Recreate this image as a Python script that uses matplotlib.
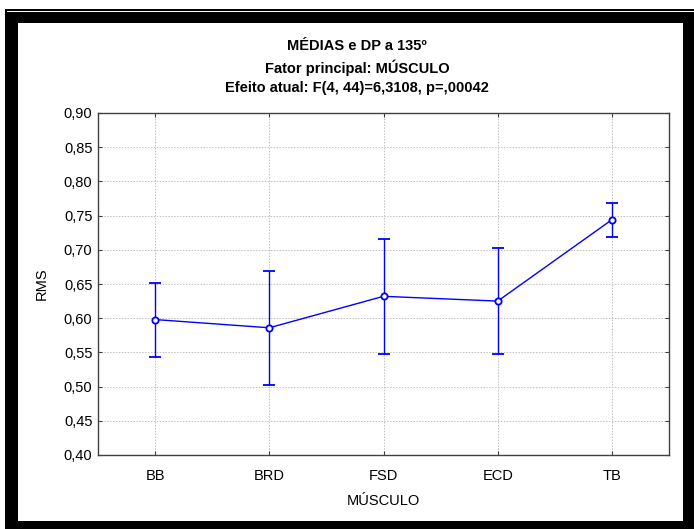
import matplotlib
matplotlib.use('Agg')
import matplotlib.pyplot as plt
from matplotlib.patches import Rectangle
from matplotlib.ticker import FuncFormatter

# datos del grafico
musculos = ['BB', 'BRD', 'FSD', 'ECD', 'TB']
medias = [0.598, 0.586, 0.632, 0.625, 0.744]
dp = [0.054, 0.083, 0.084, 0.077, 0.025]
yticks = [0.40, 0.45, 0.50, 0.55, 0.60, 0.65, 0.70, 0.75, 0.80, 0.85, 0.90]

titulo = ['MÉDIAS e DP a 135º', 'Fator principal: MÚSCULO', 'Efeito atual: F(4, 44)=6,3108, p=,00042']

plt.rcParams['font.family'] = ['Liberation Sans', 'DejaVu Sans']
plt.rcParams['font.size'] = 10.5

W, H = 694, 529
fig = plt.figure(figsize=(W / 100, H / 100), dpi=100)

#convierte pixeles a coordenadas de la figura
def px_rect(x0, y0, x1, y1):
    return Rectangle((x0 / W, (H - y1) / H), (x1 - x0) / W, (y1 - y0) / H,
                     transform=fig.transFigure, facecolor='black', edgecolor='none')

# marco negro
for r in [(5, 9, 7, H), (5, 9, W, 11), (7, 12, 18, H), (7, 12, W, 23), (683, 12, W, H), (7, 521, W, H)]:
    fig.add_artist(px_rect(*r))

ax = fig.add_axes([98 / W, (H - 455) / H, (669 - 98) / W, (455 - 113) / H])

x = list(range(len(musculos)))
ax.errorbar(x, medias, yerr=dp, color='#0000ff', lw=1, capsize=4, capthick=0.9, elinewidth=1,
            marker='o', ms=4.5, mfc='white', mec='#0000ff', mew=1.3, zorder=3)

ax.set_xlim(-0.5, 4.5)
ax.set_ylim(0.40, 0.90)
ax.set_xticks(x)
ax.set_xticklabels(musculos)
ax.set_yticks(yticks)
ax.yaxis.set_major_formatter(FuncFormatter(lambda v, p: ('%.2f' % v).replace('.', ',')))

ax.grid(True, linestyle=(0, (1.5, 1.5)), color='#c0c0c0', lw=0.7)
ax.tick_params(direction='in', top=True, right=True, length=3, width=0.8, color='#404040')
ax.tick_params(axis='x', pad=10)
ax.tick_params(axis='y', pad=4)
for s in ax.spines.values():
    s.set_color('#404040')
    s.set_linewidth(1)

ax.set_xlabel('MÚSCULO', labelpad=8)
ax.set_ylabel('RMS', labelpad=11)

# titulos
for t, yy in zip(titulo, [46, 68, 88]):
    fig.text(357 / W, (H - yy) / H, t, ha='center', va='center', fontweight='bold')

fig.savefig('out.png', dpi=100)
